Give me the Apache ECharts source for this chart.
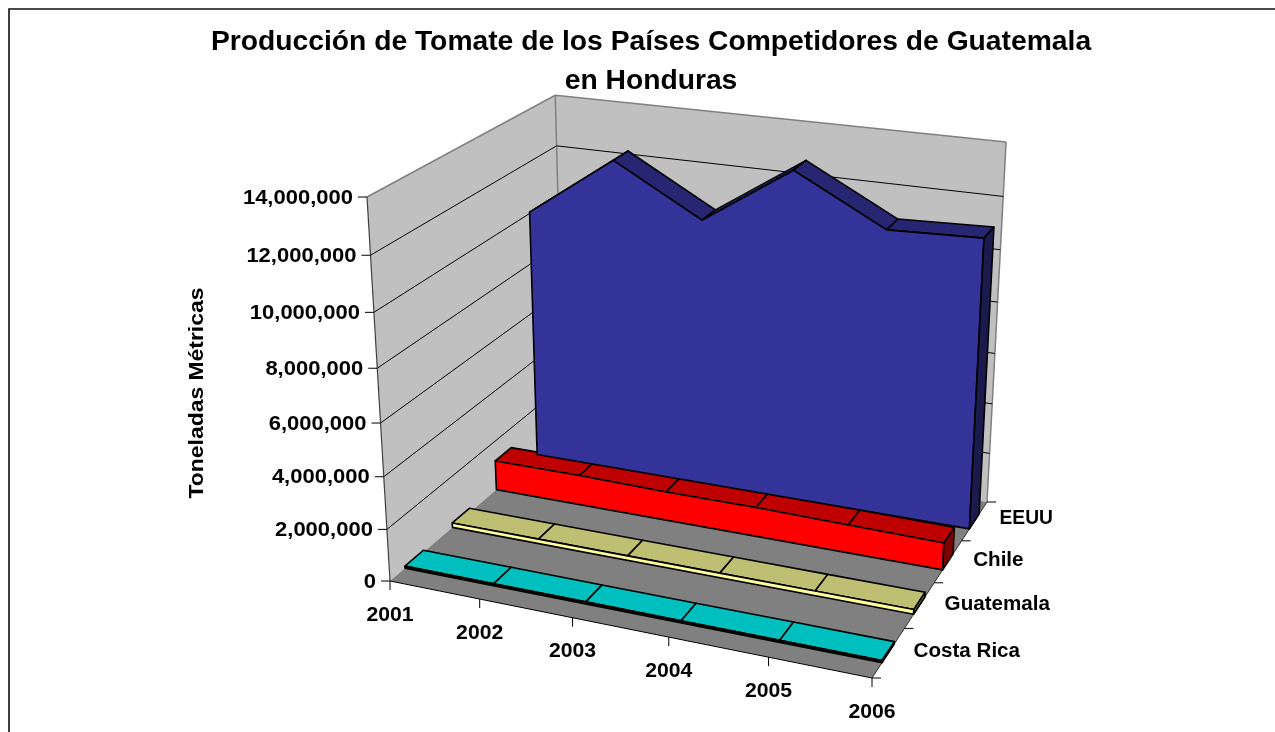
<!DOCTYPE html>
<html><head><meta charset="utf-8"><style>html,body{margin:0;padding:0;background:#fff}#c{width:1275px;height:732px}</style>
<script src="https://cdn.jsdelivr.net/npm/echarts@6/dist/echarts.min.js"></script></head>
<body><div id="c"></div><script>
const years=['2001','2002','2003','2004','2005','2006'];
const countries=['Costa Rica','Guatemala','Chile','EEUU'];
const costaRica=[80000,80000,80000,80000,80000,80000];
const guatemala=[180000,180000,180000,180000,180000,180000];
const chile=[1200000,1200000,1150000,1150000,1100000,1050000];
const eeuu=[10050000,12470000,10580000,12870000,11070000,11200000];
const valueTicks=[0,2000000,4000000,6000000,8000000,10000000,12000000,14000000];
const valueMax=14000000;

// Box frame on screen (layout only)
const A=[390,581],B=[872,678],C=[987,502],D=[564,431.5],T0=[367,197],T2=[1006,141];
const band=[0.30,0.68];
const S={};
(function(){
 const [x0,y0]=A,[x1,y1]=B,[x2,y2]=C,[x3,y3]=D;
 const sx=x0-x1+x2-x3,sy=y0-y1+y2-y3,dx1=x1-x2,dx2=x3-x2,dy1=y1-y2,dy2=y3-y2,det=dx1*dy2-dx2*dy1;
 const g=(sx*dy2-dx2*sy)/det,h=(dx1*sy-sx*dy1)/det;
 const a=x1-x0+g*x1,b=x3-x0+h*x3,c=x0,d=y1-y0+g*y1,e=y3-y0+h*y3,f=y0;
 const Ax=T0[0]-T2[0],Bx=T2[0]*(g+h+1)-a-b-T0[0];
 const Ay=T0[1]-T2[1],By=T2[1]*(g+h+1)-d-e-T0[1];
 const t=(Ax*Bx+Ay*By)/(Ax*Ax+Ay*Ay);
 Object.assign(S,{a,b,c,d,e,f,g,h,t,c1:T0[0]*(1+t)-c,c2:T0[1]*(1+t)-f});
})();
function P(u,v,val){
 const z=val/valueMax,w=S.g*u+S.h*v+1+S.t*z;
 return [(S.a*u+S.b*v+S.c+S.c1*z)/w,(S.d*u+S.e*v+S.f+S.c2*z)/w];
}
const U=i=>i/(years.length-1), V=k=>k/countries.length;
const line=(p,q,stroke,lw,z2)=>({type:'line',shape:{x1:p[0],y1:p[1],x2:q[0],y2:q[1]},style:{stroke,lineWidth:lw},z2:z2||0});
const poly=(pts,fill,stroke,lw,z2)=>({type:'polygon',shape:{points:pts},style:{fill,stroke:stroke||null,lineWidth:lw||0,lineJoin:'round'},z2:z2||0});
const txt=(x,y,text,ax,sx)=>({type:'text',x,y,scaleX:sx||1,style:{text,fill:'#000',font:'bold 20px "Liberation Sans", Arial, sans-serif',textAlign:ax,textVerticalAlign:'middle'}});

function renderFrame(){
 const wall='#c0c0c0',edge='#808080';
 const ch=[];
 const back=[P(0,1,0),P(1,1,0),P(1,1,valueMax),P(0,1,valueMax)];
 const left=[P(0,0,0),P(0,1,0),P(0,1,valueMax),P(0,0,valueMax)];
 const floor=[P(0,0,0),P(1,0,0),P(1,1,0),P(0,1,0)];
 ch.push(poly(back,wall),poly(left,wall),poly(floor,'#808080'));
 ch.push(line(P(0,0,valueMax),P(0,1,valueMax),edge,1.5),line(P(0,1,valueMax),P(1,1,valueMax),edge,1.5),line(P(1,1,valueMax),P(1,1,0),edge,1.5),line(P(0,1,0),P(0,1,valueMax),edge,1.5));
 valueTicks.forEach(t=>{
  if(t>0&&t<valueMax){ch.push(line(P(0,0,t),P(0,1,t),'#000',1),line(P(0,1,t),P(1,1,t),'#000',1));}
 });
 ch.push(line(P(0,0,0),P(0,0,valueMax),'#404040',1.2),line(P(0,0,0),P(1,0,0),'#000',1),line(P(1,0,0),P(1,1,0),'#303030',1));
 return {type:'group',children:ch};
}
function renderLabels(){
 const ch=[];
 valueTicks.forEach(t=>{const p=P(0,0,t);ch.push(line([p[0]-9,p[1]],p,'#000',1),txt(p[0]-14,p[1]+1,t.toLocaleString('en-US'),'right',1.1));});
 years.forEach((y,i)=>{const p=P(U(i),0,0);ch.push(line(p,[p[0],p[1]+9],'#000',1),txt(p[0],p[1]+34,y,'center',1.06));});
 for(let k=0;k<=countries.length;k++){const p=P(1,V(k),0);ch.push(line(p,[p[0]+9,p[1]],'#000',1));}
 countries.forEach((n,k)=>{const p=P(1,V(k+0.5),0);ch.push(txt(p[0]+25,p[1]-1-(k===3?2:0),n,'left',k===3?0.96:1.03));});
 return {type:'group',children:ch};
}
function renderArea(values,k,fills){
 const v0=V(k+band[0]),v1=V(k+band[1]),last=values.length-1;
 return function(params,api){
  const i=api.value(0),val=api.value(1),ch=[],lw=1.6;
  if(i<last){
   const nx=values[i+1];
   ch.push(poly([P(U(i),v0,val),P(U(i+1),v0,nx),P(U(i+1),v1,nx),P(U(i),v1,val)],fills.top,'#000',lw,1));
  } else {
   ch.push(poly([P(1,v0,0),P(1,v1,0),P(1,v1,val),P(1,v0,val)],fills.side,'#000',lw,3));
   const pts=[P(0,v0,0)];
   values.forEach((w,j)=>pts.push(P(U(j),v0,w)));
   pts.push(P(1,v0,0));
   ch.push(poly(pts,fills.front,'#000',lw,2));
  }
  return {type:'group',children:ch};
 };
}
const seriesFills=[
 {top:'#00bfbf',front:'#000000',side:'#007f7f'},
 {top:'#bfbf73',front:'#ffff99',side:'#7f7f4c'},
 {top:'#bf0000',front:'#ff0000',side:'#7f0000'},
 {top:'#262673',front:'#333399',side:'#1a1a4d'}
];
const seriesValues=[costaRica,guatemala,chile,eeuu];
const areaSeries=[3,2,1,0].map(k=>({
 type:'custom',name:countries[k],coordinateSystem:'none',silent:true,
 data:seriesValues[k].map((v,i)=>[i,v]),encode:{},
 renderItem:renderArea(seriesValues[k],k,seriesFills[k])
}));
const chart=echarts.init(document.getElementById('c'));
chart.setOption({
 animation:false,backgroundColor:'#fff',
 title:{text:'Producción de Tomate de los Países Competidores de Guatemala\nen Honduras',left:646,top:18,textAlign:'center',
  textStyle:{fontFamily:'"Liberation Sans", Arial, sans-serif',fontWeight:'bold',fontSize:28.25,lineHeight:38.5,color:'#000'}},
 graphic:[
  {type:'polyline',shape:{points:[[9,732],[9,9],[1275,9]]},style:{stroke:'#111',fill:null,lineWidth:1.6}},
  {type:'text',x:197,y:393,rotation:Math.PI/2,scaleX:1.145,style:{text:'Toneladas Métricas',fill:'#000',font:'bold 20px "Liberation Sans", Arial, sans-serif',textAlign:'center',textVerticalAlign:'middle'}}
 ],
 series:[
  {type:'custom',coordinateSystem:'none',silent:true,data:[[0]],renderItem:renderFrame},
  ...areaSeries,
  {type:'custom',coordinateSystem:'none',silent:true,data:[[0]],renderItem:renderLabels}
 ]
});
</script></body></html>
